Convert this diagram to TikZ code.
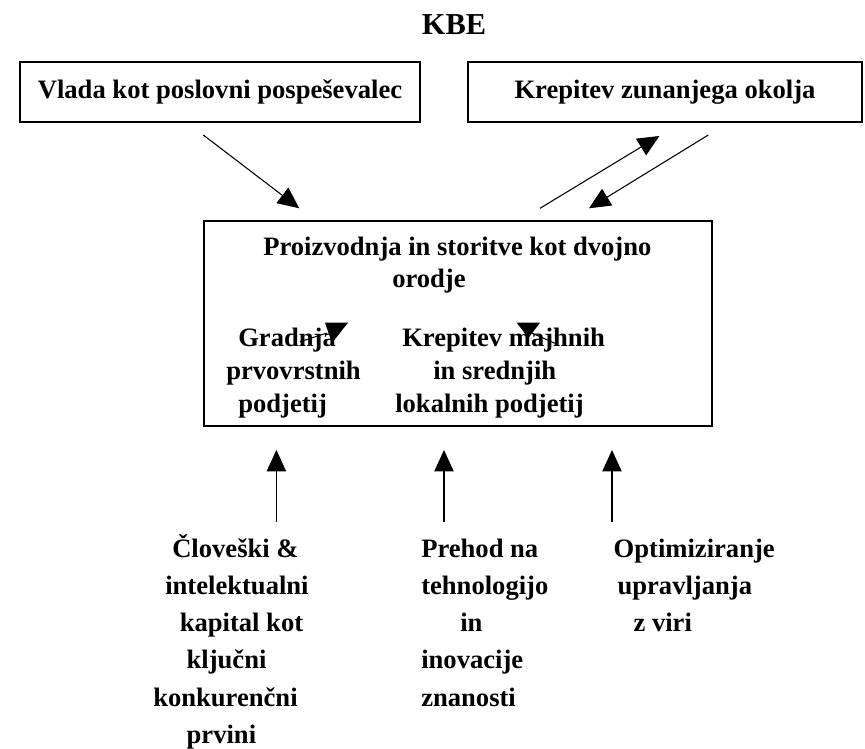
\documentclass[tikz,border=0pt]{standalone}
\usepackage{fontspec}
\setmainfont{Liberation Serif}
\usetikzlibrary{arrows.meta}
\begin{document}
\begin{tikzpicture}[x=0.75pt,y=-0.75pt,
  txt/.style={font=\fontsize{19.95}{24}\selectfont\bfseries, inner sep=0, anchor=base west},
  boxn/.style={draw, line width=1pt, inner sep=0, font=\fontsize{19.95}{24}\selectfont\bfseries, minimum height=45pt},
  arr/.style={line width=0.8pt, -{Triangle[length=16pt,width=14.5pt]}},
  tri/.style={fill=black}]
\path[use as bounding box, clip] (0,0) rectangle (865,749);
% title
\node[font=\fontsize{22.8}{27}\selectfont\bfseries, inner sep=0, anchor=base] (kbe) at (454,35) {KBE};
% top boxes
\node[boxn, minimum width=300pt] (vlada) at (220,92) {Vlada kot poslovni pospeševalec};
\node[boxn, minimum width=295.5pt] (okolje) at (665,92) {Krepitev zunanjega okolja};
% main box
\node[draw, line width=1pt, minimum width=381pt, minimum height=153.75pt, inner sep=0] (main) at (458,323.5) {};
\node[txt] (p1) at (263,255) {Proizvodnja in storitve kot dvojno};
\node[txt] (p2) at (392,287) {orodje};
\node[txt] (g1) at (238,346) {Gradnja};
\node[txt] (g2) at (226,379) {prvovrstnih};
\node[txt] (g3) at (238,412) {podjetij};
\node[txt] (k1) at (402,346) {Krepitev majhnih};
\node[txt] (k2) at (433,379) {in srednjih};
\node[txt] (k3) at (395,412) {lokalnih podjetij};
% inner small arrows
\coordinate (ia1) at (300,341.7); \coordinate (ia2) at (327,333);
\coordinate (ta1) at (325,322.7); \coordinate (ta2) at (348,322.7); \coordinate (ta3) at (332,343);
\draw[line width=0.75pt] (ia1) -- (ia2);
\fill[tri] (ta1) -- (ta2) -- (ta3) -- cycle;
\coordinate (ib1) at (531.7,333); \coordinate (ib2) at (555,343.3);
\coordinate (tb1) at (516.7,322.7); \coordinate (tb2) at (540,322.7); \coordinate (tb3) at (528.5,338);
\draw[line width=0.75pt] (ib1) -- (ib2);
\fill[tri] (tb1) -- (tb2) -- (tb3) -- cycle;
% top arrows
\coordinate (a1s) at (203.3,135); \coordinate (a1e) at (299.3,208.3);
\coordinate (a2s) at (540,208.3); \coordinate (a2e) at (659.3,136);
\coordinate (a3s) at (708.3,135); \coordinate (a3e) at (589,208.3);
\draw[arr] (a1s) -- (a1e);
\draw[arr] (a2s) -- (a2e);
\draw[arr] (a3s) -- (a3e);
% bottom texts
\node[txt] (c1) at (172,557) {Človeški \&};
\node[txt] (c2) at (165,594.3) {intelektualni};
\node[txt] (c3) at (179.5,631.6) {kapital kot};
\node[txt] (c4) at (186.4,668.9) {ključni};
\node[txt] (c5) at (153,706.2) {konkurenčni};
\node[txt] (c6) at (186.4,743.5) {prvini};
\node[txt] (t1) at (421,557) {Prehod na};
\node[txt] (t2) at (421,594.3) {tehnologijo};
\node[txt] (t3) at (460,631.6) {in};
\node[txt] (t4) at (421,668.9) {inovacije};
\node[txt] (t5) at (421,706.2) {znanosti};
\node[txt] (o1) at (613.4,557) {Optimiziranje};
\node[txt] (o2) at (617.3,594.3) {upravljanja};
\node[txt] (o3) at (633.3,631.6) {z viri};
% bottom arrows
\coordinate (b1s) at (276.4,521.7); \coordinate (b1e) at (276.4,450);
\coordinate (b2s) at (444,521.7); \coordinate (b2e) at (444,450);
\coordinate (b3s) at (612,521.7); \coordinate (b3e) at (612,450);
\draw[arr] (b1s) -- (b1e);
\draw[arr] (b2s) -- (b2e);
\draw[arr] (b3s) -- (b3e);
\end{tikzpicture}
\end{document}
